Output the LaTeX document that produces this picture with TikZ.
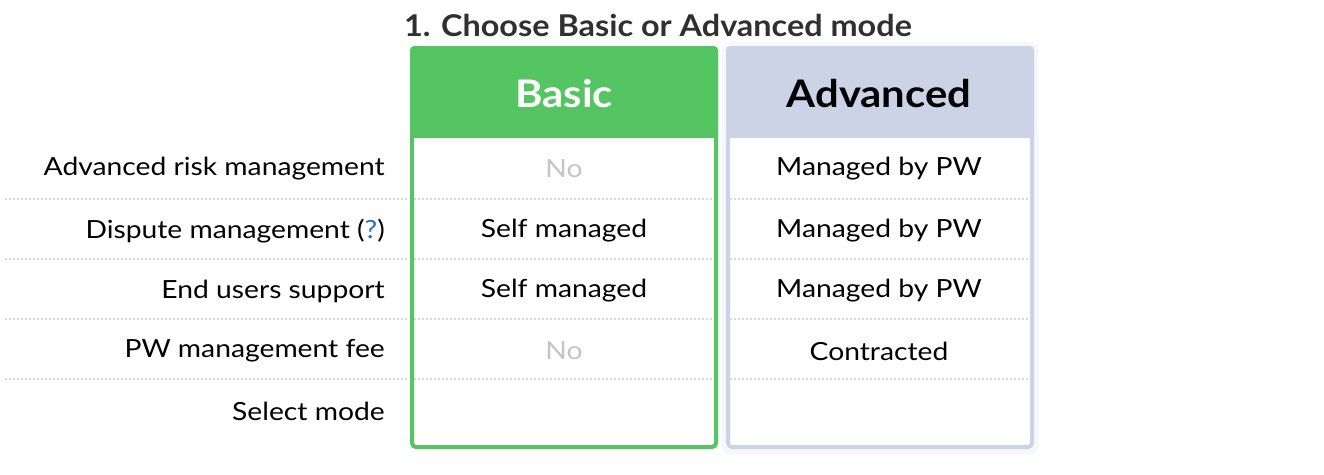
\documentclass[tikz,border=0pt]{standalone}
\usepackage{fontspec}
\setmainfont{Lato}
\newfontfamily\labfont[FakeStretch=1.13]{Lato}
\newfontfamily\titfont[FakeStretch=1.08]{Lato}
\newfontfamily\headfont[FakeStretch=1.1]{Lato}
\definecolor{greenb}{HTML}{55C462}
\definecolor{blueb}{HTML}{CBD4E7}
\definecolor{dotc}{HTML}{D9D9D9}
\definecolor{titlec}{HTML}{303030}
\definecolor{nogray}{HTML}{C4C4C4}
\definecolor{qblue}{HTML}{1F6FC5}
\begin{document}
\begin{tikzpicture}[x=1pt,y=-1pt,
  lbl/.style={anchor=east,font=\labfont\fontsize{25}{28}\selectfont,text=black,inner sep=0pt},
  cell/.style={anchor=center,font=\labfont\fontsize{25}{28}\selectfont,text=black,inner sep=0pt},
  nocell/.style={cell,text=nogray},
  head/.style={anchor=center,font=\headfont\fontsize{38}{42}\selectfont\bfseries,inner sep=0pt},
  rowline/.style={draw=dotc,line width=1.6pt,dash pattern=on 2pt off 2pt},
  colbox/.style={line width=4pt,rounded corners=4pt}]
\useasboundingbox[fill=white] (0,0) rectangle (1324,474);
% soft shadows
\fill[blueb!18,rounded corners=7pt] (722,42) rectangle (1038,454);
\fill[white,rounded corners=4pt] (726,46) rectangle (1034,449);
% dotted row lines
\foreach \yy in {199,259,319,379}{
  \draw[rowline] (5,\yy) -- (408,\yy);
  \draw[rowline] (414,\yy) -- (714,\yy);
  \draw[rowline] (730,\yy) -- (1030,\yy);
}
% basic column
\fill[greenb,rounded corners=4pt] (410,46) rectangle (718,140);
\fill[greenb] (410,120) rectangle (718,138);
\draw[greenb,colbox] (412,48) rectangle (716,447);
\fill[white] (414,138) rectangle (714,198);
% advanced column
\fill[blueb,rounded corners=4pt] (726,46) rectangle (1034,140);
\fill[blueb] (726,120) rectangle (1034,138);
\draw[blueb,colbox] (728,48) rectangle (1032,447);
\fill[white] (730,138) rectangle (1030,198);
% title
\node[anchor=center,font=\titfont\fontsize{30}{34}\selectfont\bfseries,text=titlec,inner sep=0pt] (title) at (658,25) {1. Choose Basic or Advanced mode};
\node[head,text=white] (basic) at (564,94) {Basic};
\node[head,text=black] (adv) at (879,94) {Advanced};
% labels
\node[lbl] (l1) at (385,169) {Advanced risk management};
\node[lbl] (l2) at (385,231) {Dispute management ({\color{qblue}?})};
\node[lbl] (l3) at (385,291) {End users support};
\node[lbl] (l4) at (385,351) {PW management fee};
\node[lbl] (l5) at (385,411) {Select mode};
% basic cells
\node[nocell] (b1) at (564,169) {No};
\node[cell] (b2) at (564,231) {Self managed};
\node[cell] (b3) at (564,291) {Self managed};
\node[nocell] (b4) at (564,351) {No};
% advanced cells
\node[cell] (a1) at (879,169) {Managed by PW};
\node[cell] (a2) at (879,231) {Managed by PW};
\node[cell] (a3) at (879,291) {Managed by PW};
\node[cell] (a4) at (879,351) {Contracted};
\end{tikzpicture}
\end{document}
